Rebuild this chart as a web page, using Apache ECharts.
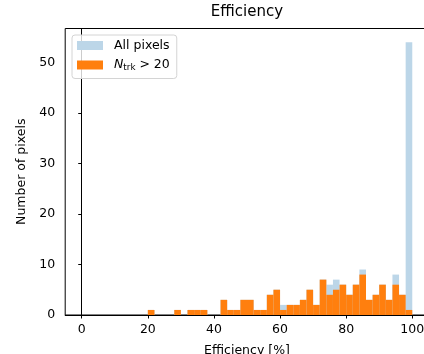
<!DOCTYPE html>
<html>
<head>
<meta charset="utf-8">
<script src="https://cdn.jsdelivr.net/npm/echarts@6/dist/echarts.min.js"></script>
<style>
  html, body { margin: 0; padding: 0; background: #fff; overflow: hidden; }
  /* the axes box runs a little past the right edge of the window */
  #chart { width: 431px; height: 354px; }
</style>
</head>
<body>
<div id="chart"></div>
<script>
// Histogram bin edges (efficiency in %)
const binEdges = [0, 2, 4, 6, 8, 10, 12, 14, 16, 18, 20, 22, 24, 26, 28, 30, 32, 34, 36, 38,
  40, 42, 44, 46, 48, 50, 52, 54, 56, 58, 60, 62, 64, 66, 68, 70, 72, 74, 76, 78,
  80, 82, 84, 86, 88, 90, 92, 94, 96, 98, 100];

// Pixel counts per bin, all pixels
const allPixels = [0, 0, 0, 0, 0, 0, 0, 0, 0, 0, 1, 0, 0, 0, 1, 0, 1, 1, 1, 0,
  0, 3, 1, 1, 3, 3, 1, 1, 4, 5, 2, 2, 2, 3, 5, 2, 7, 6, 7, 6,
  4, 6, 9, 3, 4, 6, 3, 8, 4, 54];

// Pixel counts per bin, pixels with more than 20 tracks
const ntrkAbove20 = [0, 0, 0, 0, 0, 0, 0, 0, 0, 0, 1, 0, 0, 0, 1, 0, 1, 1, 1, 0,
  0, 3, 1, 1, 3, 3, 1, 1, 4, 5, 1, 2, 2, 3, 5, 2, 7, 4, 5, 6,
  4, 6, 8, 3, 4, 6, 3, 6, 4, 1];

const xTicks = [0, 20, 40, 60, 80, 100];
const yTicks = [0, 10, 20, 30, 40, 50];

const seriesNames = ['All pixels', 'N_trk > 20'];
const FONT = 'DejaVu Sans';

function toBins(counts) {
  return counts.map((c, i) => [binEdges[i], binEdges[i + 1], c]);
}

function renderBin(params, api) {
  const h = api.value(2);
  if (!h) return null;
  const p0 = api.coord([api.value(0), 0]);
  const p1 = api.coord([api.value(1), h]);
  return {
    type: 'rect',
    shape: { x: p0[0], y: p1[1], width: p1[0] - p0[0], height: p0[1] - p1[1] },
    style: { fill: api.visual('color') }
  };
}

const chart = echarts.init(document.getElementById('chart'), null, { renderer: 'canvas' });

chart.setOption({
  animation: false,
  backgroundColor: '#fff',
  title: {
    text: 'Efficiency',
    left: 247,
    top: 5,
    padding: 0,
    textAlign: 'center',
    textStyle: { fontFamily: FONT, fontSize: 15, fontWeight: 'normal', color: '#000' }
  },
  grid: {
    left: 65.2, right: 2.2, top: 28.5, bottom: 39,
    outerBoundsMode: 'none',
    containLabel: false,
    show: true, borderColor: '#000', borderWidth: 1, backgroundColor: 'transparent'
  },
  legend: {
    orient: 'vertical',
    left: 72,
    top: 35,
    padding: [4, 7, 6, 5],
    itemWidth: 26,
    itemHeight: 9,
    itemGap: 5.5,
    backgroundColor: 'rgba(255,255,255,0.8)',
    borderColor: '#d4d4d4',
    borderWidth: 1,
    borderRadius: 3,
    data: [
      { name: seriesNames[0], icon: 'rect' },
      { name: seriesNames[1], icon: 'rect' }
    ],
    formatter: function (name) {
      if (name === seriesNames[1]) return '{it|N}{sub|trk}{n| > 20}';
      return '{n|' + name + '}';
    },
    textStyle: {
      fontFamily: FONT, fontSize: 12.5, color: '#000', padding: [0, 0, 0, 6],
      rich: {
        n: { fontFamily: FONT, fontSize: 12.5, color: '#000', lineHeight: 15 },
        it: { fontFamily: FONT, fontSize: 12.5, fontStyle: 'italic', color: '#000', lineHeight: 15 },
        sub: { fontFamily: FONT, fontSize: 8.75, color: '#000', padding: [6, 0, 0, 0], lineHeight: 15 }
      }
    }
  },
  xAxis: {
    type: 'value',
    min: -5,
    max: 105,
    name: 'Efficiency [%]',
    nameLocation: 'middle',
    nameGap: 29,
    nameTextStyle: { fontFamily: FONT, fontSize: 12.5, color: '#000' },
    axisLine: { show: true, lineStyle: { color: '#000', width: 1 } },
    axisTick: { show: true, customValues: xTicks, length: 3.5, inside: false, lineStyle: { color: '#000' } },
    axisLabel: { customValues: xTicks, margin: 8, fontFamily: FONT, fontSize: 12.5, color: '#000' },
    splitLine: { show: false }
  },
  yAxis: {
    type: 'value',
    min: 0,
    max: 56.7,
    name: 'Number of pixels',
    nameLocation: 'middle',
    nameGap: 25,
    nameRotate: 90,
    nameTextStyle: { fontFamily: FONT, fontSize: 12.5, color: '#000' },
    axisLine: { show: true, lineStyle: { color: '#000', width: 1 } },
    axisTick: { show: true, customValues: yTicks, length: 3.5, inside: false, lineStyle: { color: '#000' } },
    axisLabel: { customValues: yTicks, margin: 10, fontFamily: FONT, fontSize: 12.5, color: '#000' },
    splitLine: { show: false }
  },
  series: [
    {
      name: seriesNames[0],
      type: 'custom',
      renderItem: renderBin,
      itemStyle: { color: '#bcd6e8' },
      encode: { x: [0, 1], y: 2 },
      data: toBins(allPixels),
      z: 2
    },
    {
      name: seriesNames[1],
      type: 'custom',
      renderItem: renderBin,
      itemStyle: { color: '#ff7f0e' },
      encode: { x: [0, 1], y: 2 },
      data: toBins(ntrkAbove20),
      z: 3
    }
  ]
});
</script>
</body>
</html>
